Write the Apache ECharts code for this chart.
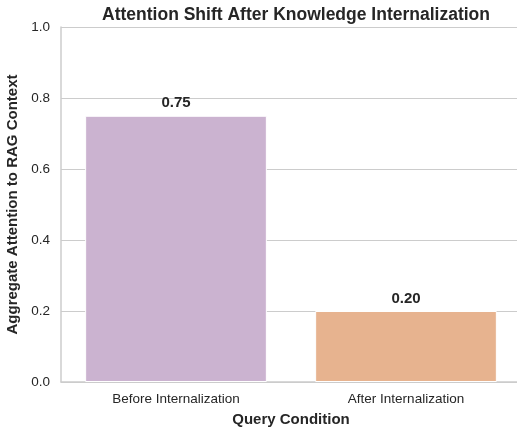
<!DOCTYPE html>
<html>
<head>
<meta charset="utf-8">
<script src="https://cdn.jsdelivr.net/npm/echarts@6/dist/echarts.min.js"></script>
<style>
  html, body { margin: 0; padding: 0; background: #fff; }
  #chart { width: 517px; height: 428px; }
</style>
</head>
<body>
<div id="chart"></div>
<script>
const categories = ['Before Internalization', 'After Internalization'];
const attention = [0.75, 0.20];
const barColors = ['#CBB3D0', '#E7B38F'];
const yTicks = [0, 0.2, 0.4, 0.6, 0.8, 1.0];

const chart = echarts.init(document.getElementById('chart'));
const font = 'Liberation Sans, Arial, sans-serif';
const ink = '#262626';

chart.setOption({
  animation: false,
  textStyle: { fontFamily: font },
  title: {
    text: 'Attention Shift After Knowledge Internalization',
    left: 291, top: 1, textAlign: 'center',
    textStyle: { fontSize: 17.5, fontWeight: 'bold', color: ink, fontFamily: font }
  },
  grid: { left: 61, right: -4, top: 27, bottom: 46, outerBoundsMode: 'none', containLabel: false },
  xAxis: {
    type: 'category',
    data: categories,
    name: 'Query Condition',
    nameLocation: 'middle',
    nameGap: 30,
    nameTextStyle: { fontSize: 15, fontWeight: 'bold', color: ink },
    axisLine: { lineStyle: { color: '#cccccc', width: 1.5 } },
    axisTick: { show: false },
    axisLabel: { fontSize: 13.5, color: ink, margin: 10 }
  },
  yAxis: {
    type: 'value',
    min: 0, max: 1, interval: 0.2,
    name: 'Aggregate Attention to RAG Context',
    nameLocation: 'middle',
    nameGap: 34,
    nameTextStyle: { fontSize: 15, fontWeight: 'bold', color: ink },
    axisLine: { show: true, lineStyle: { color: '#cccccc', width: 1.5 } },
    axisTick: { show: false },
    axisLabel: {
      fontSize: 13.5, color: ink, margin: 11,
      formatter: v => yTicks.includes(+v.toFixed(1)) ? v.toFixed(1) : ''
    },
    splitLine: { lineStyle: { color: '#cccccc', width: 1.2 } }
  },
  series: [{
    type: 'bar',
    barWidth: '79%',
    data: attention.map((v, i) => ({
      value: v,
      itemStyle: { color: barColors[i], borderColor: '#ffffff', borderWidth: 1 }
    })),
    label: {
      show: true, position: 'top', distance: 5,
      formatter: p => p.value.toFixed(2),
      fontSize: 15, fontWeight: 'bold', color: ink
    }
  }]
});
</script>
</body>
</html>
